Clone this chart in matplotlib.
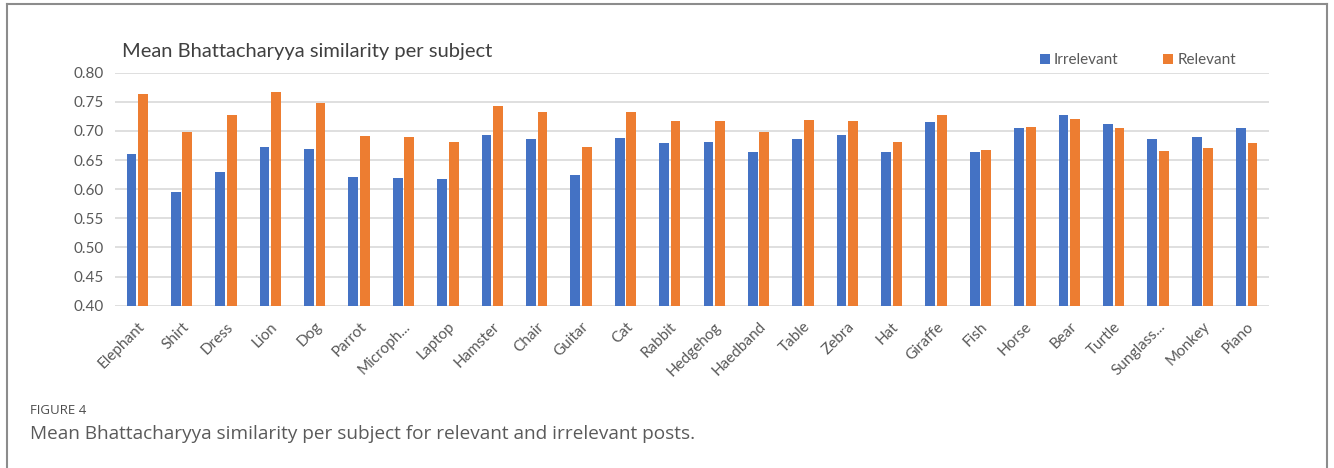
import numpy as np
import matplotlib
matplotlib.use("Agg")
import matplotlib.pyplot as plt
from matplotlib.lines import Line2D

# values
subjects = ["Elephant", "Shirt", "Dress", "Lion", "Dog", "Parrot", "Microph...",
            "Laptop", "Hamster", "Chair", "Guitar", "Cat", "Rabbit", "Hedgehog",
            "Haedband", "Table", "Zebra", "Hat", "Giraffe", "Fish", "Horse",
            "Bear", "Turtle", "Sunglass...", "Monkey", "Piano"]
irrelevant = [0.660, 0.595, 0.630, 0.672, 0.669, 0.621, 0.619, 0.618, 0.693,
              0.686, 0.624, 0.688, 0.679, 0.681, 0.664, 0.687, 0.693, 0.663,
              0.715, 0.663, 0.705, 0.727, 0.712, 0.686, 0.690, 0.705]
relevant = [0.763, 0.698, 0.727, 0.766, 0.748, 0.691, 0.690, 0.681, 0.742,
            0.733, 0.672, 0.733, 0.717, 0.717, 0.699, 0.718, 0.717, 0.681,
            0.727, 0.667, 0.706, 0.720, 0.705, 0.666, 0.671, 0.679]
y_ticks = [0.40, 0.45, 0.50, 0.55, 0.60, 0.65, 0.70, 0.75, 0.80]

BLUE = "#4472C4"
ORANGE = "#ED7D31"
TEXT = "#595959"

plt.rcParams['font.family'] = ['Lato', 'DejaVu Sans']

fig = plt.figure(figsize=(13.34, 4.68), dpi=100)
ax = fig.add_axes([0.0862, 0.3468, 0.8651, 0.4979])

x = np.arange(len(subjects))
w = 0.22
ax.bar(x - 0.13, irrelevant, width=w, color=BLUE, label="Irrelevant", zorder=3)
ax.bar(x + 0.13, relevant, width=w, color=ORANGE, label="Relevant", zorder=3)

ax.set_xlim(-0.5, len(subjects) - 0.5)
ax.set_ylim(0.40, 0.80)
ax.set_yticks(y_ticks)
ax.set_yticklabels([f"{v:.2f}" for v in y_ticks], fontsize=11, color=TEXT)
ax.yaxis.grid(True, color="#D9D9D9", linewidth=1.2, zorder=0)
ax.set_xticks(x)
ax.set_xticklabels(subjects, rotation=45, ha="right", rotation_mode="anchor",
                   fontsize=11, color=TEXT)
ax.tick_params(axis="y", length=0, pad=8)
ax.tick_params(axis="x", length=0, pad=10)
for s in ax.spines.values():
    s.set_visible(False)

fig.text(0.0915, 0.889, "Mean Bhattacharyya similarity per subject",
         fontsize=14.5, color="#404040", va="center")

fig.legend(loc="center", bbox_to_anchor=(0.853, 0.871), ncol=2, frameon=False,
           fontsize=11, handlelength=0.65, handleheight=0.65, handletextpad=0.3,
           columnspacing=2.9, labelcolor=TEXT)

# caption below the chart
fig.text(0.0225, 0.123, "FIGURE 4", fontsize=9.5, color="#4d4d4d",
         family=['Open Sans', 'DejaVu Sans'], va="center")
fig.text(0.0225, 0.073, "Mean Bhattacharyya similarity per subject for relevant and irrelevant posts.",
         fontsize=13.7, color="#5a5a5a", family=['Open Sans', 'DejaVu Sans'], va="center")

# grey frame around the figure
frame = dict(color="#8c8c8c", linewidth=1.5, transform=fig.transFigure)
fig.add_artist(Line2D([0.0055, 0.9945], [0.991, 0.991], **frame))
fig.add_artist(Line2D([0.0055, 0.0055], [0.0, 0.991], **frame))
fig.add_artist(Line2D([0.9945, 0.9945], [0.0, 0.991], **frame))

fig.savefig("out.png", dpi=100)
